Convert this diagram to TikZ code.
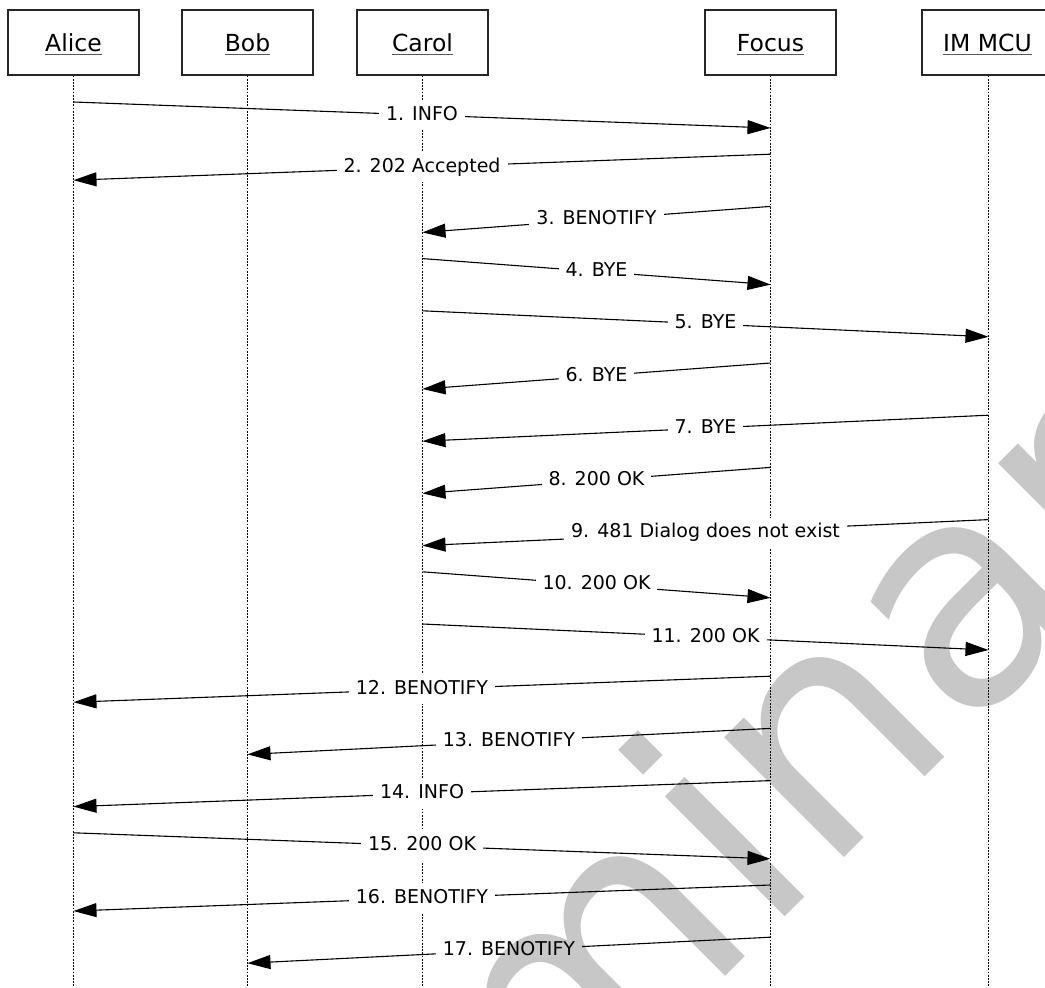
\documentclass[tikz,border=0pt]{standalone}
\usepackage{fontspec}
\setmainfont{DejaVu Sans}
\usetikzlibrary{arrows.meta}
\begin{document}
\begin{tikzpicture}[x=1pt,y=-1pt,
  actor/.style={draw=black!85, line width=1.2pt, minimum width=131pt, minimum height=65pt, inner sep=0pt, fill=white},
  actortext/.style={inner sep=0pt, font=\fontsize{23.5}{28}\selectfont},
  uline/.style={draw=black!65, line width=1.4pt},
  lifeline/.style={draw=black, line width=1.5pt, dash pattern=on 1.8pt off 1.4pt},
  msg/.style={draw=black, line width=1.1pt, -{Triangle[length=23pt,width=14pt]}},
  lbl/.style={fill=white, inner xsep=7pt, inner ysep=6pt, text height=14pt, text depth=4pt, font=\fontsize{19}{22}\selectfont},
  wm/.style={inner sep=0pt, opacity=0.22, text=black, font=\fontsize{310}{340}\selectfont}
]
\useasboundingbox (0,0) rectangle (1045,988);
\clip (0,0) rectangle (1045,988);
\fill[white] (0,0) rectangle (1045,988);

% actors
\node[actor] (alice) at (73.5,42.5) {};
\node[actor] (bob) at (247.5,42.5) {};
\node[actor] (carol) at (422.5,42.5) {};
\node[actor] (focus) at (770.5,42.5) {};
\node[actor] (mcu) at (987.5,42.5) {};
\node[actortext, anchor=base] (alicet) at (73.5,51.5) {Alice};
\node[actortext, anchor=base] (bobt) at (247.5,51.5) {Bob};
\node[actortext, anchor=base] (carolt) at (422.5,51.5) {Carol};
\node[actortext, anchor=base] (focust) at (770.5,51.5) {Focus};
\node[actortext, anchor=base] (mcut) at (987.5,51.5) {IM MCU};
\foreach \n in {alicet,bobt,carolt,focust,mcut}
  \draw[uline] ([yshift=-3pt]\n.base west) -- ([yshift=-3pt]\n.base east);

% lifeline ends
\coordinate (aliceend) at (73.5,988);
\coordinate (bobend) at (247.5,988);
\coordinate (carolend) at (422.5,988);
\coordinate (focusend) at (770.5,988);
\coordinate (mcuend) at (988.5,988);
\draw[lifeline] (alice.south) -- (aliceend);
\draw[lifeline] (bob.south) -- (bobend);
\draw[lifeline] (carol.south) -- (carolend);
\draw[lifeline] (focus.south) -- (focusend);
\draw[lifeline] ([xshift=1pt]mcu.south) -- (mcuend);

% message end points
\coordinate (m1a) at (73.5,102);   \coordinate (m1b) at (770.5,128);
\coordinate (m2a) at (770.5,154.2); \coordinate (m2b) at (73.5,180.2);
\coordinate (m3a) at (770.5,206.4); \coordinate (m3b) at (422.5,232.4);
\coordinate (m4a) at (422.5,258.6); \coordinate (m4b) at (770.5,284.6);
\coordinate (m5a) at (422.5,310.8); \coordinate (m5b) at (988.5,336.8);
\coordinate (m6a) at (770.5,363);   \coordinate (m6b) at (422.5,389);
\coordinate (m7a) at (988.5,415.2); \coordinate (m7b) at (422.5,441.2);
\coordinate (m8a) at (770.5,467.4); \coordinate (m8b) at (422.5,493.4);
\coordinate (m9a) at (988.5,519.6); \coordinate (m9b) at (422.5,545.6);
\coordinate (m10a) at (422.5,571.8); \coordinate (m10b) at (770.5,597.8);
\coordinate (m11a) at (422.5,624);  \coordinate (m11b) at (988.5,650);
\coordinate (m12a) at (770.5,676.2); \coordinate (m12b) at (73.5,702.2);
\coordinate (m13a) at (770.5,728.4); \coordinate (m13b) at (247.5,754.4);
\coordinate (m14a) at (770.5,780.6); \coordinate (m14b) at (73.5,806.6);
\coordinate (m15a) at (73.5,832.8);  \coordinate (m15b) at (770.5,858.8);
\coordinate (m16a) at (770.5,885);   \coordinate (m16b) at (73.5,911);
\coordinate (m17a) at (770.5,937.2); \coordinate (m17b) at (247.5,963.2);

\draw[msg] (m1a) -- node[lbl] (l1) {1. INFO} (m1b);
\draw[msg] (m2a) -- node[lbl] (l2) {2. 202 Accepted} (m2b);
\draw[msg] (m3a) -- node[lbl] (l3) {3. BENOTIFY} (m3b);
\draw[msg] (m4a) -- node[lbl] (l4) {4. BYE} (m4b);
\draw[msg] (m5a) -- node[lbl] (l5) {5. BYE} (m5b);
\draw[msg] (m6a) -- node[lbl] (l6) {6. BYE} (m6b);
\draw[msg] (m7a) -- node[lbl] (l7) {7. BYE} (m7b);
\draw[msg] (m8a) -- node[lbl] (l8) {8. 200 OK} (m8b);
\draw[msg] (m9a) -- node[lbl] (l9) {9. 481 Dialog does not exist} (m9b);
\draw[msg] (m10a) -- node[lbl] (l10) {10. 200 OK} (m10b);
\draw[msg] (m11a) -- node[lbl] (l11) {11. 200 OK} (m11b);
\draw[msg] (m12a) -- node[lbl] (l12) {12. BENOTIFY} (m12b);
\draw[msg] (m13a) -- node[lbl] (l13) {13. BENOTIFY} (m13b);
\draw[msg] (m14a) -- node[lbl] (l14) {14. INFO} (m14b);
\draw[msg] (m15a) -- node[lbl] (l15) {15. 200 OK} (m15b);
\draw[msg] (m16a) -- node[lbl] (l16) {16. BENOTIFY} (m16b);
\draw[msg] (m17a) -- node[lbl] (l17) {17. BENOTIFY} (m17b);

% watermark
\node[wm, rotate=45, anchor=base west] (wmk) at (80,1622) {Preliminary};
\end{tikzpicture}
\end{document}
